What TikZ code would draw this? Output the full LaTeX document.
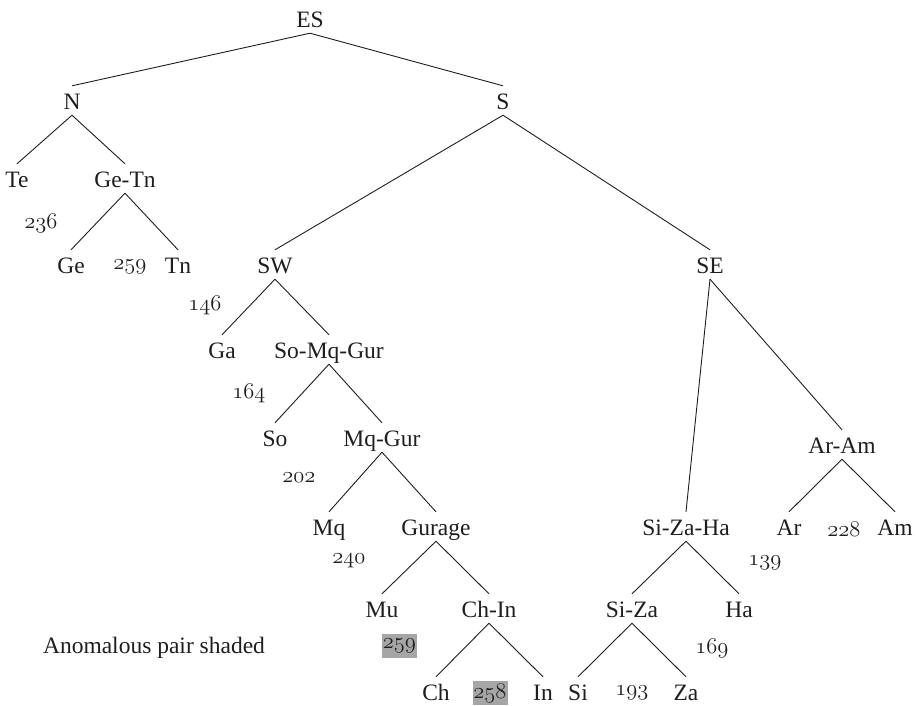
\RequirePackage{fix-cm}
\documentclass[tikz,border=0pt]{standalone}
\usepackage{fontspec}
\setmainfont{Liberation Serif}
\usepackage{xcolor}
\definecolor{ink}{HTML}{1E1E1E}
\definecolor{shade}{HTML}{A6A6A6}
% old-style figures taken from the math italic font
\newcommand{\osf}[1]{$\mathnormal{#1}$}
\begin{document}
\begin{tikzpicture}[x=1pt,y=-1pt,
  every node/.style={font=\fontsize{23.5}{28}\selectfont, text=ink},
  lbl/.style={anchor=base, text height=17pt, text depth=0pt, inner xsep=0pt, inner ysep=6pt},
  num/.style={inner sep=0pt, font=\fontsize{22.5}{27}\selectfont},
  hilite/.style={num, fill=shade, minimum width=35pt, minimum height=24pt},
  branch/.style={draw=ink, line width=0.9pt}]
\useasboundingbox (0,0) rectangle (919,705);

% tree labels
\node[lbl] (ES) at (310,27) {ES};
\node[lbl] (N) at (72,109) {N};
\node[lbl] (S) at (503,109) {S};
\node[lbl] (Te) at (17,187) {Te};
\node[lbl] (GeTn) at (125,187) {Ge-Tn};
\node[lbl] (Ge) at (71,273) {Ge};
\node[lbl] (Tn) at (178,273) {Tn};
\node[lbl] (SW) at (275,273) {SW};
\node[lbl] (SE) at (710,273) {SE};
\node[lbl] (Ga) at (222,358) {Ga};
\node[lbl] (SoMqGur) at (329,358) {So-Mq-Gur};
\node[lbl] (So) at (275,446) {So};
\node[lbl] (MqGur) at (382,446) {Mq-Gur};
\node[lbl] (ArAm) at (842,453) {Ar-Am};
\node[lbl] (Mq) at (329,535) {Mq};
\node[lbl] (Gurage) at (436,535) {Gurage};
\node[lbl] (SiZaHa) at (686,535) {Si-Za-Ha};
\node[lbl] (Ar) at (789,535) {Ar};
\node[lbl] (Am) at (895,535) {Am};
\node[lbl] (Mu) at (382,617) {Mu};
\node[lbl] (ChIn) at (489,617) {Ch-In};
\node[lbl] (SiZa) at (632,617) {Si-Za};
\node[lbl] (Ha) at (739,617) {Ha};
\node[lbl] (Ch) at (436,700) {Ch};
\node[lbl] (In) at (543,700) {In};
\node[lbl] (Si) at (578,700) {Si};
\node[lbl] (Za) at (686,700) {Za};

% branches
\foreach \p/\c in {ES/N, ES/S, N/Te, N/GeTn, GeTn/Ge, GeTn/Tn, S/SW, S/SE,
  SW/Ga, SW/SoMqGur, SoMqGur/So, SoMqGur/MqGur, MqGur/Mq, MqGur/Gurage,
  Gurage/Mu, Gurage/ChIn, ChIn/Ch, ChIn/In, SE/SiZaHa, SE/ArAm,
  ArAm/Ar, ArAm/Am, SiZaHa/SiZa, SiZaHa/Ha, SiZa/Si, SiZa/Za}
  \draw[branch] (\p.south) -- (\c.north);

% pair counts
\node[num] (v236) at (41,223) {\osf{236}};
\node[num] (v259a) at (130,267) {\osf{259}};
\node[num] (v146) at (205,305) {\osf{146}};
\node[num] (v164) at (249,393) {\osf{164}};
\node[num] (v202) at (299,478) {\osf{202}};
\node[num] (v240) at (349,561) {\osf{240}};
\node[hilite] (v259b) at (399.5,646) {\osf{259}};
\node[hilite] (v258) at (490,693) {\osf{258}};
\node[num] (v139) at (765,563) {\osf{139}};
\node[num] (v228) at (844,529) {\osf{228}};
\node[num] (v169) at (712,648) {\osf{169}};
\node[num] (v193) at (632,693) {\osf{193}};

\node[anchor=base, inner sep=0pt] (note) at (154,653) {Anomalous pair shaded};
\end{tikzpicture}
\end{document}
